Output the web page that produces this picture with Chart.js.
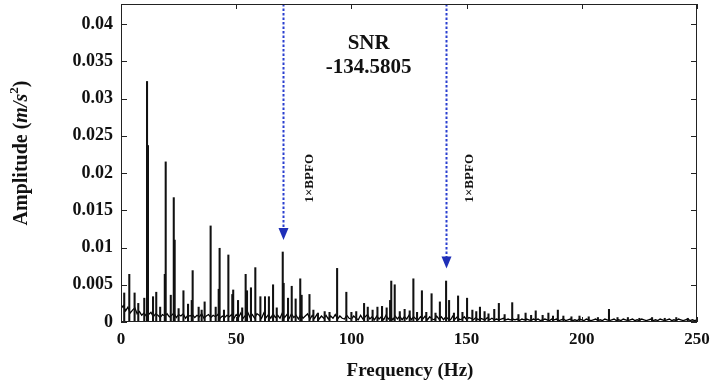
<!DOCTYPE html>
<html>
<head>
<meta charset="utf-8">
<script src="https://cdn.jsdelivr.net/npm/chart.js@4/dist/chart.umd.min.js"></script>
<style>
  html, body { margin: 0; padding: 0; background: #fff; }
  #wrap { width: 712px; height: 384px; }
</style>
</head>
<body>
<div id="wrap"><canvas id="grafico"></canvas></div>
<script>
// envelope spectrum: noise floor sampled every 1 Hz (0..250 Hz)
const noiseFloor = [
  0.0018,0.0022,0.0015,0.0020,0.0012,0.0016,0.0019,0.0011,0.0014,0.0009,
  0.0012,0.0008,0.0010,0.0013,0.0007,0.0011,0.0009,0.0006,0.0010,0.0008,
  0.0011,0.0007,0.0009,0.0012,0.0006,0.0010,0.0008,0.0011,0.0005,0.0009,
  0.0008,0.0010,0.0006,0.0009,0.0007,0.0011,0.0005,0.0008,0.0010,0.0006,
  0.0009,0.0007,0.0010,0.0005,0.0008,0.0006,0.0009,0.0007,0.0010,0.0005,
  0.0010,0.0006,0.0012,0.0005,0.0009,0.0013,0.0006,0.0010,0.0005,0.0011,
  0.0009,0.0005,0.0012,0.0006,0.0010,0.0005,0.0011,0.0006,0.0009,0.0005,
  0.0012,0.0006,0.0010,0.0005,0.0011,0.0006,0.0009,0.0004,0.0010,0.0005,
  0.0008,0.0011,0.0004,0.0009,0.0005,0.0010,0.0004,0.0008,0.0005,0.0009,
  0.0004,0.0008,0.0005,0.0010,0.0004,0.0008,0.0005,0.0004,0.0009,0.0005,
  0.0004,0.0008,0.0005,0.0003,0.0009,0.0004,0.0007,0.0010,0.0004,0.0007,
  0.0003,0.0008,0.0004,0.0007,0.0003,0.0009,0.0004,0.0007,0.0003,0.0008,
  0.0004,0.0008,0.0003,0.0007,0.0004,0.0009,0.0003,0.0007,0.0004,0.0003,
  0.0007,0.0004,0.0008,0.0003,0.0007,0.0004,0.0003,0.0008,0.0004,0.0007,
  0.0003,0.0007,0.0004,0.0003,0.0008,0.0004,0.0007,0.0003,0.0004,0.0007,
  0.0003,0.0006,0.0005,0.0003,0.0006,0.0003,0.0005,0.0004,0.0003,0.0006,
  0.0003,0.0005,0.0003,0.0004,0.0003,0.0004,0.0005,0.0003,0.0004,0.0003,
  0.0004,0.0003,0.0004,0.0002,0.0004,0.0003,0.0004,0.0003,0.0002,0.0004,
  0.0003,0.0004,0.0002,0.0003,0.0004,0.0003,0.0002,0.0004,0.0003,0.0004,
  0.0002,0.0003,0.0004,0.0002,0.0003,0.0004,0.0002,0.0003,0.0002,0.0004,
  0.0003,0.0002,0.0004,0.0003,0.0002,0.0003,0.0004,0.0002,0.0003,0.0002,
  0.0004,0.0003,0.0002,0.0003,0.0004,0.0002,0.0003,0.0002,0.0004,0.0003,
  0.0002,0.0003,0.0004,0.0002,0.0003,0.0002,0.0004,0.0003,0.0002,0.0003,
  0.0004,0.0002,0.0003,0.0002,0.0004,0.0003,0.0002,0.0003,0.0004,0.0002,
  0.0003,0.0002,0.0004,0.0003,0.0002,0.0003,0.0004,0.0002,0.0003,0.0002,
  0.0003
];

// spectral lines (Hz) and their amplitudes (m/s^2)
const peakFreqs = [
  1.4, 3.6, 5.9, 7.5, 10.1, 11.3, 11.7, 13.9, 15.3, 17.0,
  19.0, 19.4, 21.6, 22.9, 23.3, 25.0, 27.1, 29.1, 30.7, 31.1,
  33.7, 35.0, 36.3, 38.9, 41.1, 42.4, 42.8, 44.7, 46.6, 48.3,
  48.7, 50.8, 52.6, 54.1, 54.7, 56.4, 58.3, 60.5, 62.5, 64.2,
  66.0, 67.6, 70.2, 70.6, 72.5, 74.1, 75.8, 77.8, 78.4, 81.8,
  83.5, 85.5, 88.4, 90.5, 93.8, 97.8, 100.0, 102.1, 105.5, 107.1,
  109.2, 111.3, 113.3, 115.3, 116.8, 117.3, 118.8, 121.0, 123.1, 125.3,
  126.9, 128.5, 130.6, 132.5, 134.8, 136.5, 138.4, 141.1, 142.4, 144.5,
  146.3, 148.2, 150.2, 152.5, 154.2, 155.8, 157.8, 159.5, 162.0, 164.0,
  166.5, 169.8, 172.5, 175.6, 178.0, 180.0, 183.0, 185.5, 187.5, 189.6,
  192.0, 195.5, 199.0, 203.0, 207.0, 211.8, 215.5, 220.0, 225.0, 230.5,
  236.0, 241.0, 246.0
];
const peakAmps = [
  0.0039, 0.0064, 0.0039, 0.0025, 0.0032, 0.0323, 0.0237, 0.0034, 0.0040, 0.0020,
  0.0064, 0.0215, 0.0036, 0.0167, 0.0110, 0.0018, 0.0042, 0.0024, 0.0029, 0.0069,
  0.0020, 0.0016, 0.0027, 0.0129, 0.0020, 0.0044, 0.0099, 0.0016, 0.0090, 0.0037,
  0.0043, 0.0029, 0.0019, 0.0064, 0.0042, 0.0046, 0.0073, 0.0034, 0.0034, 0.0034,
  0.0050, 0.0019, 0.0094, 0.0052, 0.0032, 0.0048, 0.0031, 0.0058, 0.0036, 0.0037,
  0.0016, 0.0012, 0.0014, 0.0013, 0.0072, 0.0040, 0.0013, 0.0014, 0.0025, 0.0020,
  0.0016, 0.0020, 0.0021, 0.0019, 0.0029, 0.0055, 0.0050, 0.0014, 0.0017, 0.0015,
  0.0058, 0.0013, 0.0042, 0.0013, 0.0038, 0.0012, 0.0027, 0.0055, 0.0029, 0.0012,
  0.0035, 0.0013, 0.0032, 0.0016, 0.0014, 0.0020, 0.0014, 0.0011, 0.0017, 0.0025,
  0.0010, 0.0026, 0.0010, 0.0012, 0.0009, 0.0015, 0.0009, 0.0012, 0.0008, 0.0016,
  0.0008, 0.0007, 0.0008, 0.0007, 0.0006, 0.0017, 0.0006, 0.0006, 0.0005, 0.0006,
  0.0005, 0.0006, 0.0005
];

const xTicks = [0, 50, 100, 150, 200, 250];
const yTicks = [0, 0.005, 0.01, 0.015, 0.02, 0.025, 0.03, 0.035, 0.04];

// 1xBPFO / 2xBPFO markers: frequency and where the arrow tip stops
const arrowFreqs = [70.3, 141.1];
const arrowTips = [0.011, 0.0072];
const arrowLabels = ['1×BPFO', '1×BPFO'];
const labelFreqs = [82.0, 151.5];
const labelAmps = [0.0193, 0.0193];

const snrTitle = 'SNR';
const snrValue = '-134.5805';
const snrFreq = 107.5;
const snrAmps = [0.0374, 0.0341];

const SERIF = '"Liberation Serif", "DejaVu Serif", serif';

const molduraPlugin = {
  id: 'moldura',
  afterDraw(chart) {
    const { ctx, chartArea: a, scales } = chart;
    const x = scales.x, y = scales.y;
    ctx.save();

    // marcadores BPFO
    arrowFreqs.forEach((f, i) => {
      const px = Math.round(x.getPixelForValue(f)) + 0.5;
      const tip = y.getPixelForValue(arrowTips[i]);
      ctx.strokeStyle = '#2a3fd0';
      ctx.lineWidth = 2;
      ctx.setLineDash([2.5, 2]);
      ctx.beginPath();
      ctx.moveTo(px, a.top);
      ctx.lineTo(px, tip - 10);
      ctx.stroke();
      ctx.setLineDash([]);
      ctx.fillStyle = '#1f2fb8';
      ctx.beginPath();
      ctx.moveTo(px - 5, tip - 12);
      ctx.lineTo(px + 5, tip - 12);
      ctx.lineTo(px, tip);
      ctx.closePath();
      ctx.fill();

      ctx.save();
      ctx.translate(x.getPixelForValue(labelFreqs[i]), y.getPixelForValue(labelAmps[i]));
      ctx.rotate(-Math.PI / 2);
      ctx.fillStyle = '#111';
      ctx.font = 'bold 13px ' + SERIF;
      ctx.textAlign = 'center';
      ctx.textBaseline = 'middle';
      ctx.fillText(arrowLabels[i], 0, 0);
      ctx.restore();
    });

    // SNR
    ctx.fillStyle = '#111';
    ctx.font = 'bold 21px ' + SERIF;
    ctx.textAlign = 'center';
    ctx.textBaseline = 'middle';
    ctx.fillText(snrTitle, x.getPixelForValue(snrFreq), y.getPixelForValue(snrAmps[0]));
    ctx.fillText(snrValue, x.getPixelForValue(snrFreq), y.getPixelForValue(snrAmps[1]));

    // caixa e ticks para dentro (estilo MATLAB)
    ctx.strokeStyle = '#222';
    ctx.lineWidth = 1;
    ctx.strokeRect(a.left + 0.5, a.top + 0.5, a.right - a.left - 1, a.bottom - a.top - 1);
    ctx.beginPath();
    xTicks.forEach(v => {
      const px = Math.round(x.getPixelForValue(v)) + 0.5;
      ctx.moveTo(px, a.bottom); ctx.lineTo(px, a.bottom - 5);
      ctx.moveTo(px, a.top); ctx.lineTo(px, a.top + 5);
    });
    yTicks.forEach(v => {
      const py = Math.round(y.getPixelForValue(v)) + 0.5;
      ctx.moveTo(a.left, py); ctx.lineTo(a.left + 6, py);
      ctx.moveTo(a.right, py); ctx.lineTo(a.right - 6, py);
    });
    ctx.stroke();

    // titulos dos eixos
    ctx.fillStyle = '#111';
    ctx.font = 'bold 19px ' + SERIF;
    ctx.textBaseline = 'middle';
    ctx.textAlign = 'center';
    ctx.fillText('Frequency (Hz)', (a.left + a.right) / 2 + 1, 371);

    ctx.save();
    ctx.translate(22, 153);
    ctx.rotate(-Math.PI / 2);
    const partes = [
      { t: 'Amplitude (', f: 'bold 20px ' + SERIF, dy: 0 },
      { t: 'm/s', f: 'italic bold 20px ' + SERIF, dy: 0 },
      { t: '2', f: 'bold 13px ' + SERIF, dy: -7 },
      { t: ')', f: 'bold 20px ' + SERIF, dy: 0 }
    ];
    let total = 0;
    partes.forEach(p => { ctx.font = p.f; p.w = ctx.measureText(p.t).width; total += p.w; });
    let cx = -total / 2;
    ctx.textAlign = 'left';
    partes.forEach(p => {
      ctx.font = p.f;
      ctx.fillText(p.t, cx, p.dy);
      cx += p.w;
    });
    ctx.restore();

    ctx.restore();
  }
};

function montarGrafico() {
  const ctx = document.getElementById('grafico').getContext('2d');
  const ruido = noiseFloor.map((v, i) => ({ x: i, y: v }));
  const picos = peakFreqs.map((f, i) => ({ x: f, y: peakAmps[i] }));

  return new Chart(ctx, {
    type: 'bar',
    data: {
      datasets: [
        {
          type: 'line',
          data: ruido,
          borderColor: '#000',
          borderWidth: 1.3,
          pointRadius: 0,
          tension: 0,
          order: 2
        },
        {
          type: 'bar',
          data: picos,
          backgroundColor: '#111',
          barThickness: 1.4,
          order: 1
        }
      ]
    },
    options: {
      responsive: true,
      maintainAspectRatio: false,
      animation: false,
      layout: { padding: { top: 4, right: 15, left: 0, bottom: 0 } },
      plugins: { legend: { display: false }, tooltip: { enabled: false } },
      scales: {
        x: {
          type: 'linear',
          min: 0,
          max: 250,
          offset: false,
          grid: { display: false, drawTicks: false },
          border: { display: false },
          afterFit(scale) {
            scale.height = 62;
            scale.paddingLeft = 0;
            scale.paddingRight = 0;
          },
          afterBuildTicks(scale) { scale.ticks = xTicks.map(v => ({ value: v })); },
          ticks: {
            color: '#111',
            padding: 7,
            maxRotation: 0,
            font: { family: SERIF, size: 17, weight: 'bold' },
            callback: v => String(v)
          }
        },
        y: {
          min: 0,
          max: 0.0427,
          grid: { display: false, drawTicks: false },
          border: { display: false },
          afterFit(scale) {
            scale.width = 121;
            scale.paddingTop = 0;
            scale.paddingBottom = 0;
          },
          afterBuildTicks(scale) { scale.ticks = yTicks.map(v => ({ value: v })); },
          ticks: {
            color: '#111',
            padding: 8,
            font: { family: SERIF, size: 18, weight: 'bold' },
            callback: v => String(+v.toFixed(3))
          }
        }
      }
    },
    plugins: [molduraPlugin]
  });
}

document.addEventListener('DOMContentLoaded', () => {
  montarGrafico();
});
</script>
</body>
</html>
